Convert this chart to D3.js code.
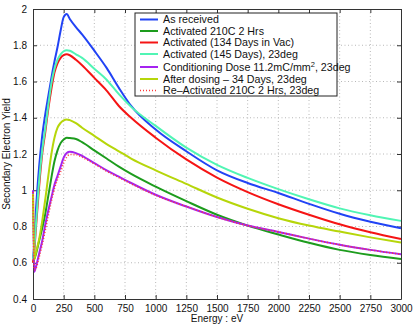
<!DOCTYPE html>
<meta charset="utf-8">
<style>
    body { margin: 0; background: #fff; }
    svg { font-family: "Liberation Sans", Arial, sans-serif; }
    .grid line { stroke: #b8b8b8; stroke-dasharray: 1,2.5; }
</style>
<script src="https://d3js.org/d3.v7.min.js"></script>
<body>
<div id="chart"></div>
<script>

    // energy points (eV) shared by all the curves
    var energy = [0, 10, 25, 50, 75, 100, 125, 150, 175, 200, 225, 250, 275, 300, 350, 400, 500, 600, 700, 800,
                  1000, 1250, 1500, 1750, 2000, 2250, 2500, 2750, 3000];

    var asReceived   = [0.62, 0.70, 0.90, 1.13, 1.30, 1.42, 1.52, 1.62, 1.71, 1.79, 1.88, 1.955, 1.972, 1.945, 1.90, 1.86, 1.77, 1.675, 1.565, 1.465,
                        1.335, 1.215, 1.11, 1.04, 0.985, 0.925, 0.87, 0.826, 0.79];
    var act210       = [0.60, 0.62, 0.65, 0.72, 0.79, 0.87, 0.97, 1.07, 1.16, 1.22, 1.26, 1.28, 1.29, 1.288, 1.283, 1.265, 1.22, 1.175, 1.13, 1.09,
                        1.02, 0.94, 0.865, 0.805, 0.756, 0.71, 0.671, 0.643, 0.621];
    var act134       = [0.60, 0.66, 0.80, 1.02, 1.20, 1.32, 1.45, 1.56, 1.65, 1.70, 1.73, 1.745, 1.75, 1.745, 1.72, 1.69, 1.62, 1.55, 1.465, 1.40,
                        1.29, 1.17, 1.07, 0.99, 0.923, 0.865, 0.812, 0.768, 0.731];
    var act145       = [0.62, 0.68, 0.82, 1.05, 1.22, 1.34, 1.47, 1.59, 1.67, 1.72, 1.75, 1.767, 1.773, 1.77, 1.75, 1.73, 1.67, 1.61, 1.53, 1.46,
                        1.355, 1.235, 1.14, 1.068, 1.006, 0.95, 0.90, 0.862, 0.831];
    var conditioning = [1.00, 0.55, 0.58, 0.65, 0.72, 0.81, 0.89, 0.96, 1.03, 1.08, 1.13, 1.18, 1.205, 1.212, 1.205, 1.19, 1.15, 1.11, 1.075, 1.04,
                        0.975, 0.91, 0.852, 0.805, 0.77, 0.733, 0.699, 0.671, 0.647];
    var afterDosing  = [0.98, 0.62, 0.66, 0.73, 0.83, 0.95, 1.08, 1.20, 1.29, 1.345, 1.372, 1.386, 1.391, 1.387, 1.37, 1.345, 1.30, 1.255, 1.215, 1.175,
                        1.11, 1.035, 0.96, 0.898, 0.846, 0.805, 0.772, 0.74, 0.711];
    var reactivated  = [0.99, 0.56, 0.57, 0.63, 0.70, 0.78, 0.86, 0.94, 1.01, 1.06, 1.10, 1.15, 1.183, 1.197, 1.196, 1.182, 1.145, 1.105, 1.07, 1.036,
                        0.972, 0.91, 0.852, 0.805, 0.77, 0.733, 0.699, 0.671, 0.647];

    var seriesNames = ["As received", "Activated 210C 2 Hrs", "Activated (134 Days in Vac)", "Activated (145 Days), 23deg",
                       "Conditioning Dose 11.2mC/mm2, 23deg", "After dosing \u2013 34 Days, 23deg", "Re\u2013Activated 210C 2 Hrs, 23deg"];
    var seriesValues = [asReceived, act210, act134, act145, conditioning, afterDosing, reactivated];
    var seriesColors = ["#2143f5", "#1d9c1d", "#f51414", "#50f5b4", "#a523f0", "#b6d60a", "#ff3a3a"];

    var xTicks = d3.range(0, 3001, 250);
    var yTicks = [0.4, 0.6, 0.8, 1, 1.2, 1.4, 1.6, 1.8, 2];

    var width = 415, height = 326;
    var margin = {top: 9, right: 14, bottom: 27, left: 33};
    var innerW = width - margin.left - margin.right,
        innerH = height - margin.top - margin.bottom;

    var svg = d3.select("#chart")
        .append("svg")
        .attr("width", width)
        .attr("height", height);

    var g = svg.append("g")
        .attr("transform", "translate(" + margin.left + "," + margin.top + ")");

    var x = d3.scaleLinear().domain([0, 3000]).range([0, innerW]);
    var y = d3.scaleLinear().domain([0.4, 2]).range([innerH, 0]);

    // dotted grid
    g.append("g").attr("class", "grid")
        .selectAll("line").data(xTicks.slice(1, -1)).enter().append("line")
        .attr("x1", function(d) { return x(d); }).attr("x2", function(d) { return x(d); })
        .attr("y1", 0).attr("y2", innerH);
    g.append("g").attr("class", "grid")
        .selectAll("line").data(yTicks.slice(1, -1)).enter().append("line")
        .attr("y1", function(d) { return y(d); }).attr("y2", function(d) { return y(d); })
        .attr("x1", 0).attr("x2", innerW);

    // axes, ticks pointing inward like matlab
    var xAxis = g.append("g")
        .attr("transform", "translate(0," + innerH + ")")
        .call(d3.axisBottom(x).tickValues(xTicks).tickSizeInner(-4).tickSizeOuter(0).tickPadding(6).tickFormat(d3.format("d")));
    var xTop = g.append("g")
        .call(d3.axisTop(x).tickValues(xTicks).tickSizeInner(-4).tickSizeOuter(0).tickFormat(""));
    var yAxis = g.append("g")
        .call(d3.axisLeft(y).tickValues(yTicks).tickSizeInner(-4).tickSizeOuter(0).tickPadding(6).tickFormat(d3.format("~g")));
    var yRight = g.append("g")
        .attr("transform", "translate(" + innerW + ",0)")
        .call(d3.axisRight(y).tickValues(yTicks).tickSizeInner(-4).tickSizeOuter(0).tickFormat(""));

    [xAxis, xTop, yAxis, yRight].forEach(function(a) {
        a.select(".domain").attr("stroke", "#333");
        a.selectAll(".tick line").attr("stroke", "#333");
        a.selectAll("text").attr("font-size", 10).attr("fill", "#111")
            .attr("font-family", "Liberation Sans, Arial, sans-serif");
    });

    // curves
    var line = d3.line()
        .x(function(d, i) { return x(energy[i]); })
        .y(function(d) { return y(d); })
        .curve(d3.curveMonotoneX);

    seriesValues.forEach(function(vals, i) {
        g.append("path")
            .attr("d", line(vals))
            .attr("fill", "none")
            .attr("stroke", seriesColors[i])
            .attr("stroke-width", i == 6 ? 1.6 : 2)
            .attr("stroke-dasharray", i == 6 ? "1,2" : null);
    });

    // legend
    var lg = svg.append("g").attr("transform", "translate(135,13)");
    lg.append("rect")
        .attr("width", 202).attr("height", 83)
        .attr("fill", "#fff").attr("stroke", "#222").attr("stroke-width", 1);

    var rowY = [6.5, 18, 29.5, 41, 54, 66, 77.5];
    seriesNames.forEach(function(name, i) {
        var row = lg.append("g").attr("transform", "translate(0," + rowY[i] + ")");
        row.append("line")
            .attr("x1", 5).attr("x2", 23).attr("y1", 0).attr("y2", 0)
            .attr("stroke", seriesColors[i])
            .attr("stroke-width", i == 6 ? 1.6 : 2)
            .attr("stroke-dasharray", i == 6 ? "1,2" : null);
        var t = row.append("text")
            .attr("x", 28).attr("y", 3.7)
            .attr("font-size", 10.7).attr("fill", "#111");
        if (i == 4) {
            t.append("tspan").text("Conditioning Dose 11.2mC/mm");
            t.append("tspan").attr("dy", -4).attr("font-size", 7.5).text("2");
            t.append("tspan").attr("dy", 4).text(", 23deg");
        } else {
            t.text(name);
        }
    });

    // axis titles
    svg.append("text")
        .attr("x", margin.left + innerW / 2).attr("y", 322)
        .attr("text-anchor", "middle").attr("font-size", 10).attr("fill", "#111")
        .text("Energy : eV");
    svg.append("text")
        .attr("transform", "translate(10," + (margin.top + innerH / 2) + ") rotate(-90)")
        .attr("text-anchor", "middle").attr("font-size", 10).attr("fill", "#111")
        .text("Secondary Electron Yield");

</script>
</body>
